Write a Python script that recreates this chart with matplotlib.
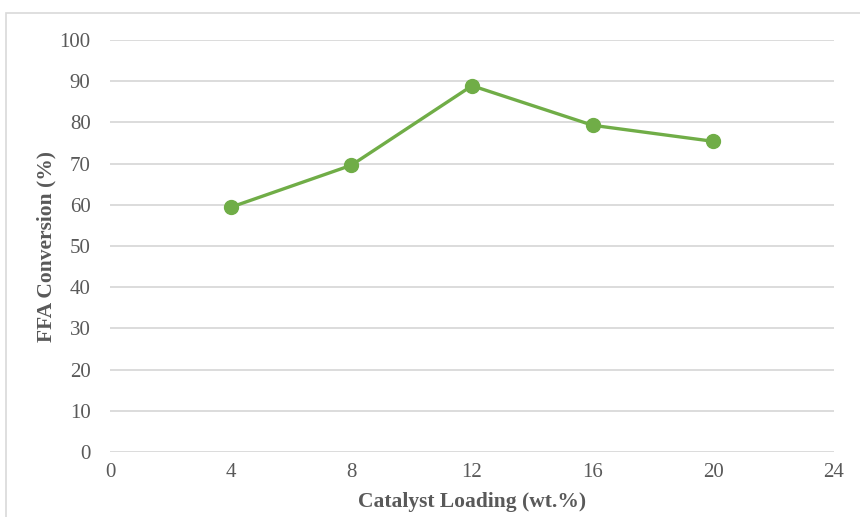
import matplotlib
matplotlib.use("Agg")
import matplotlib.pyplot as plt
from matplotlib.patches import Rectangle

# Catalyst loading (wt.%) vs FFA conversion (%)
loading = [4, 8, 12, 16, 20]
conversion = [59.4, 69.6, 88.9, 79.3, 75.4]
x_ticks = [0, 4, 8, 12, 16, 20, 24]
y_ticks = [0, 10, 20, 30, 40, 50, 60, 70, 80, 90, 100]

plt.rcParams['font.family'] = ['Liberation Serif', 'DejaVu Serif']

fig = plt.figure(figsize=(8.6, 5.17), dpi=100)
ax = fig.add_axes([110 / 860, 1 - 452 / 517, (834 - 110) / 860, (452 - 40) / 517])

# chart frame (extends past the right and bottom edges)
fig.patches.append(Rectangle((6 / 860, -0.1), 1.2, 1 - 13 / 517 + 0.1,
                             transform=fig.transFigure, fill=False,
                             edgecolor='#d9d9d9', linewidth=1.2))

ax.plot(loading, conversion, color='#70ad47', linewidth=2.4,
        marker='o', markersize=10, markerfacecolor='#70ad47',
        markeredgecolor='#70ad47', zorder=3)

ax.set_xlim(0, 24)
ax.set_ylim(0, 100)
ax.set_xticks(x_ticks)
ax.set_yticks(y_ticks)
ax.grid(axis='y', color='#d9d9d9', linewidth=1.3)
ax.set_axisbelow(True)
for s in ax.spines.values():
    s.set_visible(False)
ax.tick_params(length=0, labelsize=15, colors='#595959')
ax.tick_params(axis='y', pad=14)
ax.tick_params(axis='x', pad=8)

ax.set_xlabel('Catalyst Loading (wt.%)', fontsize=15.5, fontweight='bold',
              color='#595959')
ax.set_ylabel('FFA Conversion (%)', fontsize=15.5, fontweight='bold',
              color='#595959')
ax.xaxis.set_label_coords((472 - 110) / 724, -(502 - 452) / 412)
ax.yaxis.set_label_coords(-(110 - 46) / 724, 0.5 + (246 - 246) / 412)
ax.xaxis.label.set_va('center')
ax.yaxis.label.set_va('center')

fig.savefig('out.png', dpi=100)
